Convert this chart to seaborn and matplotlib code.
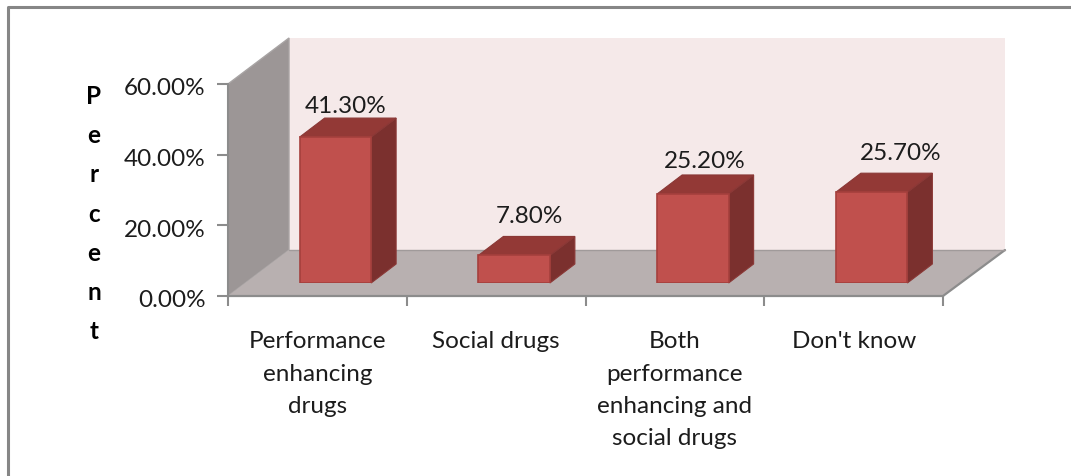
import matplotlib
matplotlib.use("Agg")
import matplotlib.pyplot as plt
import matplotlib.transforms as mtrans
import pandas as pd
import seaborn as sns
from matplotlib.patches import Polygon

# --- Data ---
categories = ["Performance\nenhancing\ndrugs", "Social drugs",
              "Both\nperformance\nenhancing and\nsocial drugs", "Don't know"]
values = [41.3, 7.8, 25.2, 25.7]
value_labels = ["41.30%", "7.80%", "25.20%", "25.70%"]
y_ticks = [0, 20, 40, 60]
y_tick_labels = ["0.00%", "20.00%", "40.00%", "60.00%"]

df = pd.DataFrame({"Category": categories, "Percent": values})

W, H = 1071, 476
sns.set_theme(style="white")
plt.rcParams["font.family"] = ["Lato", "DejaVu Sans"]

FONT = 17.5
TEXT = "#1c1c1c"


def make_axes(fig, left, right, top, bottom, **kw):
    # pixel box -> figure fractions
    return fig.add_axes([left / W, 1 - bottom / H, (right - left) / W, (bottom - top) / H], **kw)


fig = plt.figure(figsize=(W / 100, H / 100), dpi=100, facecolor="white")

# --- Frame, walls and floor, drawn in pixel space ---
bg = make_axes(fig, 0, W, 0, H, zorder=0)
bg.set_xlim(0, W)
bg.set_ylim(H, 0)
bg.axis("off")

grey = "#8c8c8c"
# frame runs off the picture on the right and at the bottom
bg.plot([W, 8, 8], [7, 7, H], color="#868686", lw=2.2)
bg.add_patch(Polygon([(289, 38), (1005, 38), (1005, 250), (289, 250)], fc="#f5e9e9", ec="none"))
bg.add_patch(Polygon([(228, 84), (289, 38), (289, 250), (228, 296)], fc="#9c9696", ec="#a8a4a4", lw=1))
bg.add_patch(Polygon([(228, 296), (289, 250), (1005, 250), (943, 296)], fc="#b8b0b0", ec="none"))
bg.plot([228, 943, 1005], [296, 296, 250], color=grey, lw=1.6)
bg.plot([289, 1005], [250, 250], color="#a09a9a", lw=1)

# --- Scale axes on the front plane: ticks and tick labels ---
scale = make_axes(fig, 228, 943, 84, 296, zorder=1)
scale.patch.set_alpha(0)
scale.set_xlim(0, len(categories))
scale.set_ylim(0, 60)
scale.set_yticks(y_ticks)
scale.set_yticklabels(y_tick_labels, fontsize=FONT, color=TEXT)
scale.set_xticks([i + 0.5 for i in range(len(categories))])
scale.set_xticklabels(categories, fontsize=FONT, color=TEXT, linespacing=1.66, va="top")
scale.set_xticks(range(len(categories) + 1), minor=True)
scale.tick_params(axis="x", which="major", length=0, pad=25.5)
scale.tick_params(axis="x", which="minor", length=7, width=1.5, color=grey, bottom=True)
scale.tick_params(axis="y", length=8, width=1.5, color=grey, pad=8, left=True)
for name, spine in scale.spines.items():
    spine.set_visible(name == "left")
    spine.set_color(grey)
    spine.set_linewidth(1.5)

# y labels sit a little below their ticks in the original
shift_down = mtrans.ScaledTranslation(0, -2 / 72, fig.dpi_scale_trans)
for tick_label in scale.get_yticklabels():
    tick_label.set_transform(tick_label.get_transform() + shift_down)

fig.text(94 / W, 1 - 214 / H, "P\ne\nr\nc\ne\nn\nt", fontsize=FONT, fontweight="bold",
         color="black", ha="center", va="center", linespacing=1.85)

# --- Bars: front faces sit on the floor, shifted back from the front plane ---
ax = make_axes(fig, 246, 961, 71, 283, zorder=2)
ax.patch.set_alpha(0)
sns.barplot(data=df, x="Category", y="Percent", color="#c0504d", saturation=1, width=0.4,
            edgecolor="#a5403d", linewidth=1.2, ax=ax)
ax.set_xlim(-0.5, len(categories) - 0.5)
ax.set_ylim(0, 60)
ax.axis("off")

# side and top faces follow from each bar's own rectangle
dx, dy = 25, -19
# data labels are placed by hand in the original, so each has its own nudge
label_nudge = [(10, -12), (15, -20), (12, -13), (29, -20)]
fig.canvas.draw()
for bar, label, nudge in zip(ax.patches, value_labels, label_nudge):
    (x0, y0), (x1, y1) = ax.transData.transform(
        [(bar.get_x(), 0), (bar.get_x() + bar.get_width(), bar.get_height())])
    left, right = x0, x1
    base, top = H - y0, H - y1
    bg.add_patch(Polygon([(right, top), (right + dx, top + dy), (right + dx, base + dy), (right, base)],
                         fc="#7b302e", ec="#8a3836", lw=0.8, zorder=5))
    bg.add_patch(Polygon([(left, top), (left + dx, top + dy), (right + dx, top + dy), (right, top)],
                         fc="#933936", ec="#8a3836", lw=0.8, zorder=5))
    bg.text((left + right) / 2 + nudge[0], top + dy + nudge[1], label, fontsize=FONT, color=TEXT,
            ha="center", va="center", zorder=6)

fig.savefig("out.png", dpi=100, facecolor="white")
